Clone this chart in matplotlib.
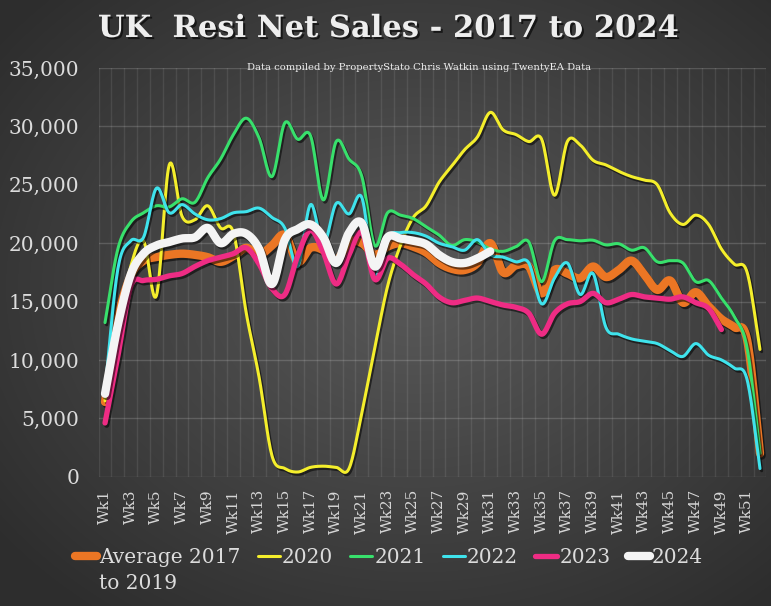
import numpy as np
import matplotlib
matplotlib.use('Agg')
import matplotlib.pyplot as plt
import matplotlib.patheffects as pe


weeks = ['Wk%d' % i for i in range(1, 53)]

avg_2017_2019 = [6400, 13500, 17200, 18500, 18800, 19000, 19100, 19000, 18800, 18400,
                 18900, 19600, 19000, 19800, 20700, 18400, 19600, 19400, 18500, 20100,
                 20000, 19000, 19700, 20000, 19700, 19200, 18300, 17800, 17700, 18300,
                 20000, 17500, 18100, 18000, 15700, 17700, 17400, 17000, 18000, 17100,
                 17700, 18500, 17300, 16000, 16800, 14900, 15800, 14600, 13500, 12800,
                 11700, 2000]

sales_2020 = [6500, 12500, 18000, 20200, 15500, 26700, 22300, 22000, 23200, 21300,
              20900, 14000, 8500, 1800, 700, 400, 800, 900, 800, 700,
              5500, 11000, 16300, 19800, 22200, 23200, 25200, 26600, 28000, 29100,
              31200, 29700, 29300, 28700, 28900, 24100, 28700, 28400, 27100, 26700,
              26150, 25700, 25400, 25000, 22600, 21600, 22400, 21600, 19500, 18200,
              17500, 10900]

sales_2021 = [13200, 19500, 21800, 22600, 23200, 23100, 23800, 23500, 25600, 27200,
              29300, 30700, 29000, 25700, 30300, 28900, 29200, 23700, 28700, 27200,
              25700, 19800, 22600, 22400, 22100, 21400, 20700, 19800, 20300, 20100,
              19500, 19300, 19700, 20100, 16700, 20200, 20300, 20200, 20250, 19850,
              19950, 19400, 19600, 18400, 18500, 18300, 16700, 16800, 15300, 13700,
              11000, 2000]

sales_2022 = [7500, 17800, 20200, 20500, 24700, 22600, 23300, 22500, 22000, 22100,
              22600, 22700, 23000, 22200, 21300, 18000, 23300, 19900, 23400, 22500,
              23900, 17200, 20500, 20900, 20900, 20600, 20000, 19700, 19400, 20300,
              19000, 18800, 18400, 18300, 14800, 17000, 18300, 15600, 17400, 12800,
              12200, 11800, 11600, 11400, 10800, 10300, 11400, 10400, 10000, 9300,
              8300, 700]

sales_2023 = [4600, 10300, 16300, 16800, 16900, 17200, 17400, 18000, 18500, 18800,
              19100, 19600, 18200, 16100, 15600, 18900, 21100, 19200, 16500, 19000,
              20900, 16900, 18700, 18200, 17300, 16500, 15400, 14900, 15100, 15300,
              15000, 14700, 14500, 14000, 12200, 14000, 14800, 15000, 15700, 14900,
              15200, 15600, 15400, 15300, 15200, 15400, 14900, 14400, 12600]

sales_2024 = [7100, 13000, 17300, 19100, 19800, 20100, 20400, 20500, 21300, 20000,
              20800, 20800, 19500, 16500, 20300, 21200, 21600, 20500, 18300, 20900,
              21700, 18000, 20500, 20400, 20200, 19900, 19000, 18400, 18300, 18700,
              19300]

labels = ['Average 2017', '2020', '2021', '2022', '2023', '2024']
colors = ['#EB7624', '#F4EE2C', '#38E06C', '#3FE3EC', '#EE2C84', '#F4F4F4']
widths = [6.0, 2.2, 2.2, 2.2, 3.8, 6.0]

plt.rcParams['font.family'] = 'DejaVu Serif'


def smooth(y, n=16):
    # catmull-rom through the weekly points, like excel's smoothed line
    y = np.asarray(y, dtype=float)
    x = np.arange(1, len(y) + 1, dtype=float)
    p = np.concatenate([[2 * y[0] - y[1]], y, [2 * y[-1] - y[-2]]])
    xs, ys = [], []
    t = np.linspace(0, 1, n, endpoint=False)
    for i in range(len(y) - 1):
        p0, p1, p2, p3 = p[i], p[i + 1], p[i + 2], p[i + 3]
        v = 0.5 * ((2 * p1) + (-p0 + p2) * t + (2 * p0 - 5 * p1 + 4 * p2 - p3) * t ** 2
                   + (-p0 + 3 * p1 - 3 * p2 + p3) * t ** 3)
        xs.append(x[i] + t)
        ys.append(v)
    xs.append([x[-1]])
    ys.append([y[-1]])
    return np.concatenate(xs), np.concatenate(ys)


def main():
    fig = plt.figure(figsize=(7.71, 6.06), dpi=100)

    # radial grey background
    bg = fig.add_axes([0, 0, 1, 1], zorder=-5)
    gx, gy = np.meshgrid(np.linspace(-1, 1, 400), np.linspace(-1, 1, 320))
    r = np.sqrt((gx - 0.08) ** 2 + (gy + 0.05) ** 2)
    shade = 0.35 - 0.17 * np.clip(r / 1.35, 0, 1)
    bg.imshow(np.dstack([shade] * 3), aspect='auto', extent=[0, 1, 0, 1], interpolation='bilinear')
    bg.set_axis_off()

    ax = fig.add_axes([98.6 / 771, 1 - 476.7 / 606, (766.4 - 98.6) / 771, (476.7 - 68) / 606])
    ax.set_facecolor('none')

    series = [avg_2017_2019, sales_2020, sales_2021, sales_2022, sales_2023, sales_2024]
    handles = []
    for vals, lab, col, lw in zip(series, labels, colors, widths):
        xs, ys = smooth(vals)
        ln, = ax.plot(xs, ys, color=col, lw=lw, label=lab, solid_capstyle='round',
                      solid_joinstyle='round')
        ln.set_path_effects([pe.SimpleLineShadow(offset=(1.2, -1.6), shadow_color='black', alpha=0.55),
                             pe.Normal()])
        handles.append(plt.Line2D([], [], color=col, lw=lw, solid_capstyle='round'))

    ax.set_xlim(0.5, 52.5)
    ax.set_ylim(0, 35000)
    ax.set_yticks(np.arange(0, 35001, 5000))
    ax.set_yticklabels(['{:,}'.format(v) for v in range(0, 35001, 5000)])
    ax.set_xticks(np.arange(1, 53, 2))
    ax.set_xticklabels(weeks[::2], rotation=90)
    ax.set_xticks(np.arange(0.5, 53, 1), minor=True)
    ax.tick_params(which='both', length=0)
    ax.tick_params(axis='y', pad=14, labelsize=14.5, labelcolor='#dcdcdc')
    ax.tick_params(axis='x', pad=9, labelsize=11, labelcolor='#d6d6d6')
    ax.grid(which='major', axis='y', color='#ffffff', alpha=0.16, lw=1)
    ax.grid(which='minor', axis='x', color='#ffffff', alpha=0.09, lw=1)
    ax.set_axisbelow(True)
    for s in ax.spines.values():
        s.set_visible(False)

    fig.text(0.503, 0.953, 'UK  Resi Net Sales - 2017 to 2024', ha='center', va='center',
             weight='bold', size=22, color='#eeeeee',
             path_effects=[pe.withSimplePatchShadow(offset=(1.5, -1.5), shadow_rgbFace='black', alpha=0.6)])
    fig.text(0.543, 0.889, 'Data compiled by PropertyStato Chris Watkin using TwentyEA Data',
             ha='center', va='center', size=7.2, color='#f0f0f0')

    leg = fig.legend(handles, labels, loc='upper left', bbox_to_anchor=(75 / 771, 1 - 548 / 606),
                     ncol=6, frameon=False, handlelength=1.1, handletextpad=0.1,
                     columnspacing=0.85, borderpad=0, borderaxespad=0, fontsize=14.5)
    for t in leg.get_texts():
        t.set_color('#dcdcdc')

    fig.canvas.draw()
    bb = leg.get_texts()[0].get_window_extent()
    fig.text(bb.x0 / fig.bbox.width, (bb.y0 - 7) / fig.bbox.height, 'to 2019', ha='left', va='top',
             size=14.5, color='#dcdcdc')

    fig.savefig('out.png', dpi=100)


if __name__ == '__main__':
    main()
